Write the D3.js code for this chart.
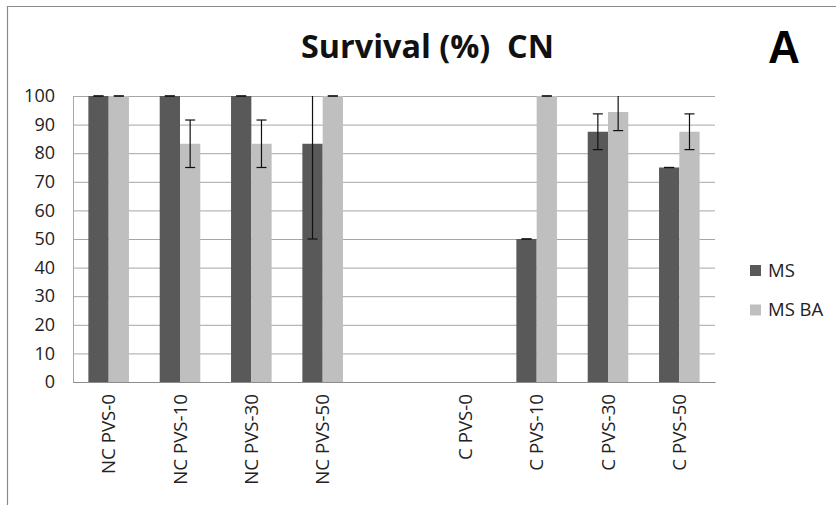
<!DOCTYPE html>
<html>
<head>
<meta charset="utf-8">
<script src="https://cdn.jsdelivr.net/npm/d3@7"></script>
<style>
  html, body { margin: 0; padding: 0; background: #fff; }
  svg { display: block; }
</style>
</head>
<body>
<svg id="chart" width="836" height="505"></svg>
<script>
// ---- data ----
const categories = ["NC PVS-0", "NC PVS-10", "NC PVS-30", "NC PVS-50", "", "C PVS-0", "C PVS-10", "C PVS-30", "C PVS-50"];
const seriesNames = ["MS", "MS BA"];
const msValues   = [100, 100, 100, 83.3, null, null, 50, 87.5, 75];
const msErrors   = [0, 0, 0, 33.3, null, null, 0, 6.25, 0];
const msbaValues = [100, 83.3, 83.3, 100, null, null, 100, 94.4, 87.5];
const msbaErrors = [0, 8.3, 8.3, 0, null, null, 0, 6.5, 6.25];
const yTicks = [0, 10, 20, 30, 40, 50, 60, 70, 80, 90, 100];
const titleText = "Survival (%)  CN";
const panelLabel = "A";

const colors = ["#595959", "#bfbfbf"];
const svg = d3.select("#chart");

// frame
svg.append("path").attr("d", "M7.5,505 V6.5 H836").attr("fill", "none").attr("stroke", "#8a8a8a").attr("stroke-width", 1.2);

const plotL = 73, plotR = 715, plotT = 96, plotB = 382;

const x = d3.scaleBand().domain(d3.range(categories.length)).range([plotL, plotR]).paddingInner(0).paddingOuter(0);
const y = d3.scaleLinear().domain([0, 100]).range([plotB, plotT]);

// grid + y axis
const yAxis = d3.axisLeft(y).tickValues(yTicks).tickSize(-(plotR - plotL)).tickPadding(18).tickFormat(d3.format("d"));
const gy = svg.append("g").attr("transform", `translate(${plotL},0)`).call(yAxis);
gy.select(".domain").attr("stroke", "#a6a6a6");
gy.selectAll(".tick line").attr("stroke", "#a6a6a6").attr("stroke-width", 1);
gy.selectAll(".tick text").attr("fill", "#222").style("font-family", "'Open Sans', sans-serif").style("font-size", "18px");

// bars
const barW = 20.3;
const series = [
  { values: msValues, errors: msErrors },
  { values: msbaValues, errors: msbaErrors }
];
series.forEach((s, si) => {
  const g = svg.append("g");
  categories.forEach((c, i) => {
    const v = s.values[i];
    if (v === null || v === undefined) return;
    const cx = x(i) + x.bandwidth() / 2;
    const bx = cx - barW + si * barW;
    g.append("rect")
      .attr("x", bx).attr("y", y(v))
      .attr("width", barW).attr("height", y(0) - y(v))
      .attr("fill", colors[si]);
  });
});

// error bars
series.forEach((s, si) => {
  const g = svg.append("g").attr("stroke", "#111").attr("stroke-width", 1.2);
  categories.forEach((c, i) => {
    const v = s.values[i];
    if (v === null || v === undefined) return;
    const e = s.errors[i] || 0;
    const ex = x(i) + x.bandwidth() / 2 - barW / 2 + si * barW;
    const hi = Math.min(v + e, 100), lo = Math.max(v - e, 0);
    const cw = 5;
    g.append("line").attr("x1", ex).attr("x2", ex).attr("y1", y(hi)).attr("y2", y(lo));
    if (v + e <= 100) g.append("line").attr("x1", ex - cw).attr("x2", ex + cw).attr("y1", y(v + e)).attr("y2", y(v + e));
    g.append("line").attr("x1", ex - cw).attr("x2", ex + cw).attr("y1", y(lo)).attr("y2", y(lo));
  });
});

// x axis
const xAxis = d3.axisBottom(x).tickSize(0).tickFormat(i => categories[i]);
const gx = svg.append("g").attr("transform", `translate(0,${plotB})`).call(xAxis);
gx.select(".domain").attr("stroke", "#8c8c8c").attr("stroke-width", 1.2);
gx.selectAll(".tick text")
  .attr("transform", "rotate(-90)")
  .attr("x", -12).attr("y", 0).attr("dy", "0.36em")
  .attr("text-anchor", "end")
  .attr("fill", "#222")
  .style("font-family", "'Open Sans', sans-serif").style("font-size", "18.7px");

// title
svg.append("text").attr("x", 301).attr("y", 58)
  .attr("textLength", 253).attr("lengthAdjust", "spacingAndGlyphs")
  .style("white-space", "pre")
  .style("font-family", "'Open Sans', sans-serif").style("font-weight", "bold").style("font-size", "32px")
  .attr("fill", "#111").text(titleText);

svg.append("text").attr("x", 768).attr("y", 63)
  .attr("textLength", 32).attr("lengthAdjust", "spacingAndGlyphs")
  .style("font-family", "'Liberation Sans', Arial, sans-serif").style("font-weight", "bold").style("font-size", "47px")
  .attr("fill", "#000").text(panelLabel);

// legend
const lg = svg.append("g");
seriesNames.forEach((n, i) => {
  const ly = 265 + i * 39.5;
  lg.append("rect").attr("x", 750).attr("y", ly).attr("width", 11).attr("height", 11).attr("fill", colors[i]);
  lg.append("text").attr("x", 768).attr("y", ly + 11.5)
    .style("font-family", "'Open Sans', sans-serif").style("font-size", "18.5px")
    .attr("fill", "#222").text(n);
});
</script>
</body>
</html>
